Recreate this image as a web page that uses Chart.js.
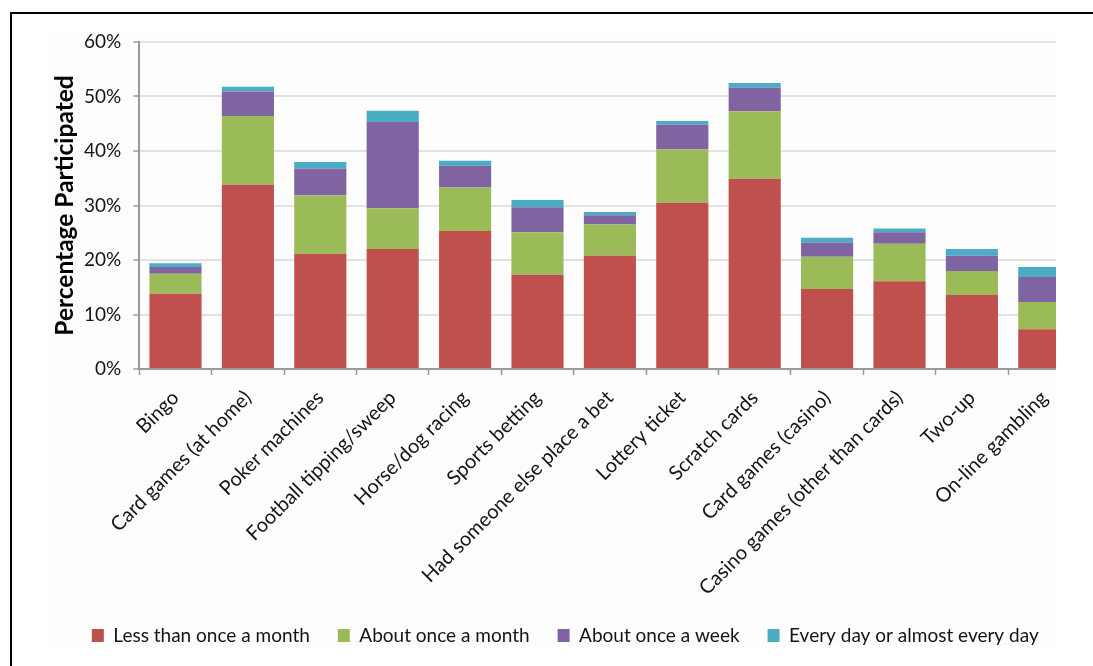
<!DOCTYPE html>
<html>
<head>
<meta charset="utf-8">
<title>Gambling participation by activity</title>
<script src="https://cdn.jsdelivr.net/npm/chart.js@4.4.1/dist/chart.umd.min.js"></script>
<style>
  html, body { margin: 0; padding: 0; background: #ffffff; }
  #wrap { position: relative; width: 1093px; height: 666px; }
  canvas { display: block; }
</style>
</head>
<body>
<div id="wrap"><canvas id="chart" width="1093" height="666"></canvas></div>
<script>
// Gambling activities (x axis)
const categories = [
  'Bingo',
  'Card games (at home)',
  'Poker machines',
  'Football tipping/sweep',
  'Horse/dog racing',
  'Sports betting',
  'Had someone else place a bet',
  'Lottery ticket',
  'Scratch cards',
  'Card games (casino)',
  'Casino games (other than cards)',
  'Two-up',
  'On-line gambling'
];

// Share of respondents (%) by frequency of participation
const lessThanOnceAMonth = [13.8, 33.8, 21.1, 22.0, 25.3, 17.3, 20.8, 30.5, 34.9, 14.7, 16.1, 13.6, 7.3];
const aboutOnceAMonth    = [3.7, 12.6, 10.8, 7.5, 8.0, 7.8, 5.7, 9.8, 12.4, 5.9, 6.9, 4.4, 5.0];
const aboutOnceAWeek     = [1.2, 4.5, 4.9, 15.8, 4.0, 4.6, 1.7, 4.5, 4.3, 2.6, 2.1, 2.8, 4.6];
const everyDay           = [0.7, 0.9, 1.2, 2.1, 0.9, 1.3, 0.6, 0.7, 0.9, 0.9, 0.7, 1.2, 1.8];

const seriesNames = [
  'Less than once a month',
  'About once a month',
  'About once a week',
  'Every day or almost every day'
];

// Y axis ticks
const yTicks = [0, 10, 20, 30, 40, 50, 60];

const FONT = 'Lato, "Open Sans", sans-serif';
const TEXT = '#141414';

// Page background, faint panel and the frame lines
const backdrop = {
  id: 'backdrop',
  beforeDraw(chart) {
    const c = chart.ctx;
    c.save();
    c.fillStyle = '#ffffff';
    c.fillRect(0, 0, chart.width, chart.height);
    c.fillStyle = '#fdfdfd';
    c.fillRect(48, 33, 1008, 612);
    c.restore();
  },
  afterDraw(chart) {
    const c = chart.ctx;
    c.save();
    // the embedded figure is trimmed on its right side
    c.fillStyle = '#ffffff';
    c.fillRect(1056, 14, chart.width - 1056, chart.height - 14);
    c.fillStyle = '#000000';
    c.fillRect(10, 12, chart.width - 10, 2);
    c.fillRect(10, 12, 2, chart.height - 12);
    c.restore();
  }
};

// Nudge the legend row sideways
const legendShift = {
  id: 'legendShift',
  afterLayout(chart, args, opts) {
    const lg = chart.legend;
    if (lg) { lg.left += opts.dx; lg.right += opts.dx; }
  }
};

new Chart(document.getElementById('chart'), {
  type: 'bar',
  data: {
    labels: categories,
    datasets: [
      { label: seriesNames[0], data: lessThanOnceAMonth, backgroundColor: '#C0504D' },
      { label: seriesNames[1], data: aboutOnceAMonth,    backgroundColor: '#9BBB59' },
      { label: seriesNames[2], data: aboutOnceAWeek,     backgroundColor: '#8064A2' },
      { label: seriesNames[3], data: everyDay,           backgroundColor: '#4BACC6' }
    ]
  },
  plugins: [backdrop, legendShift],
  options: {
    responsive: false,
    animation: false,
    devicePixelRatio: 1,
    layout: { padding: { top: 42, right: 12.5, bottom: 11, left: 0 } },
    datasets: { bar: { categoryPercentage: 1.0, barPercentage: 0.72 } },
    plugins: {
      legendShift: { dx: 25 },
      tooltip: { enabled: false },
      legend: {
        position: 'bottom',
        labels: {
          boxWidth: 12,
          boxHeight: 13,
          padding: 28,
          color: TEXT,
          font: { family: FONT, size: 19 }
        }
      }
    },
    scales: {
      x: {
        stacked: true,
        afterFit(scale) { scale.height = 229; },
        border: { display: true, color: '#9a9a9a', width: 2 },
        grid: {
          display: true,
          offset: true,
          drawOnChartArea: false,
          drawTicks: true,
          tickLength: 6,
          tickColor: '#9a9a9a',
          tickWidth: 1.5
        },
        ticks: {
          autoSkip: false,
          minRotation: 45,
          maxRotation: 45,
          padding: 11,
          color: TEXT,
          font: { family: FONT, size: 20 }
        }
      },
      y: {
        stacked: true,
        min: yTicks[0],
        max: yTicks[yTicks.length - 1],
        afterFit(scale) { scale.width = 139.3; },
        afterBuildTicks(scale) { scale.ticks = yTicks.map(v => ({ value: v })); },
        border: { display: true, color: '#9a9a9a', width: 2 },
        grid: {
          color: '#e2e2e2',
          lineWidth: 2,
          drawTicks: true,
          tickLength: 6,
          tickColor: '#9a9a9a',
          tickWidth: 1.5
        },
        ticks: {
          padding: 12,
          color: TEXT,
          font: { family: FONT, size: 19 },
          callback: v => v + '%'
        },
        title: {
          display: true,
          text: 'Percentage Participated',
          color: '#000000',
          padding: { top: 50, bottom: 0 },
          font: { family: FONT, size: 24.5, weight: 'bold' }
        }
      }
    }
  }
});
</script>
</body>
</html>
